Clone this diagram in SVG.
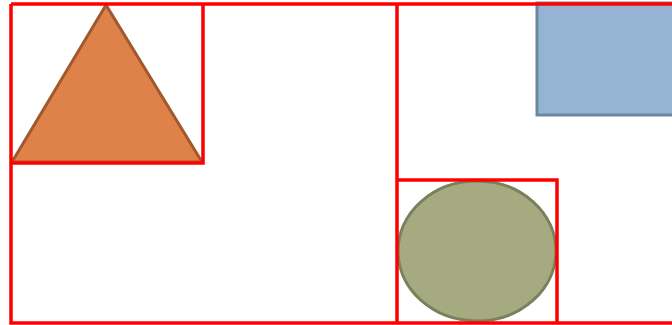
<svg xmlns="http://www.w3.org/2000/svg" width="672" height="325" viewBox="0 0 672 325">
<style>
.frame{fill:none;stroke:#ff0000;stroke-width:3.5}
</style>
<rect width="672" height="325" fill="#ffffff"/>
<g id="square"><rect x="537" y="3" width="140" height="112" fill="#95b4d3" stroke="#6b889f" stroke-width="3"/></g>
<g id="triangle"><polygon points="106,5 12,162 202,162" fill="#de824a" stroke="#a0592d" stroke-width="3"/></g>
<g id="ellipse"><ellipse cx="477" cy="251" rx="79" ry="70" fill="#a5aa80" stroke="#7a7f5c" stroke-width="3"/></g>
<g id="frames">
<path class="frame" d="M11,4 H675 M11,4 V323 H675 M11,163 H203 V4 M397,4 V323 M397,180 H557 V323"/>
</g>
</svg>
